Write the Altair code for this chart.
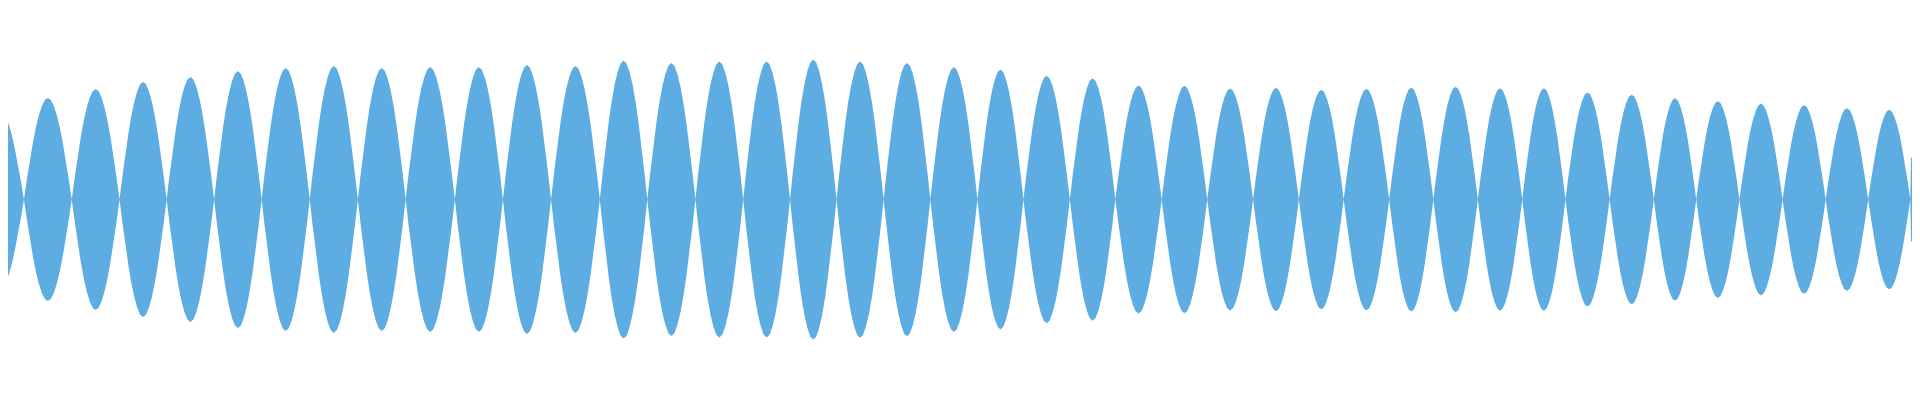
import altair as alt
import pandas as pd

# Positions (in reference pixel units) where the envelope touches zero
nodes = [24, 72, 120, 167.3, 215, 262.7, 311, 359.3, 407.3, 456.7,
         505, 553.3, 602.3, 650, 698.3, 746.3, 793.3, 840, 887.3, 934.2,
         981.5, 1027.7, 1074.3, 1120, 1166.5, 1212.3, 1258.3, 1304.3, 1349.3, 1395,
         1439.3, 1484, 1528.6, 1572, 1616.3, 1660.7, 1703.3, 1746.7, 1790, 1833.3,
         1876, 1918.3]
first_start = -24

# Peak amplitude of every lobe (lobe 0 is the partial one at the left edge)
peaks = [90, 102, 111, 118, 123, 129, 132, 134, 132, 133,
         133, 135, 134, 139.5, 137, 138.5, 138.5, 140.5, 138.7, 137.2,
         133, 130.5, 124.2, 121.7, 114.5, 114.2, 111.5, 112.2, 110.3, 111.3,
         112.5, 113.3, 111.8, 111.8, 107.5, 105.3, 101.7, 98.8, 96.3, 94.7,
         91.7, 90.2]

# Shape of one lobe: position fraction -> relative height
profile_pos = [0, 0.0625, 0.125, 0.1875, 0.25, 0.3125, 0.375, 0.4375, 0.5,
               0.5625, 0.625, 0.6875, 0.75, 0.8125, 0.875, 0.9375, 1.0]
profile_h = [0, 0.20, 0.38, 0.56, 0.71, 0.83, 0.92, 0.98, 1.0,
             0.98, 0.92, 0.83, 0.71, 0.56, 0.38, 0.20, 0]

# Short burst at the very right edge
tail_t = [1919.0, 1920.0]
tail_amp = [42, 42]

rows = []
starts = [first_start] + nodes[:-1]
for s, e, a in zip(starts, nodes, peaks):
    for f, h in zip(profile_pos, profile_h):
        rows.append({"t": s + f * (e - s), "amp": a * h})
for t, a in zip(tail_t, tail_amp):
    rows.append({"t": t, "amp": a})
df = pd.DataFrame(rows)
df["neg"] = -df["amp"]

chart = (
    alt.Chart(df)
    .mark_area(color="#5DADE2", clip=True, opacity=1)
    .encode(
        x=alt.X("t:Q", scale=alt.Scale(domain=[8, 1920], nice=False, zero=False), axis=None),
        y=alt.Y("amp:Q", scale=alt.Scale(domain=[-200.5, 191.5], nice=False, zero=False), axis=None),
        y2="neg:Q",
    )
    .properties(width=1912, height=392, padding=0)
    .configure_view(stroke=None)
)

chart.save("out.html", embed_options={"renderer": "svg", "actions": False})
